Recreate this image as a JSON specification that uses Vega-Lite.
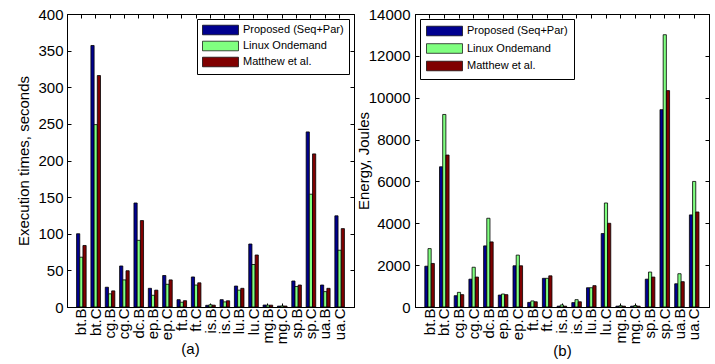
{
  "$schema": "https://vega.github.io/schema/vega-lite/v6.json",
  "padding": {"left": 16, "top": 6, "right": 0, "bottom": 0},
  "background": "white",
  "config": {
    "view": {"stroke": "black", "strokeWidth": 1},
    "axis": {"domainColor": "black", "tickColor": "black", "labelColor": "black", "titleColor": "black", "labelFont": "Liberation Sans", "titleFont": "Liberation Sans", "labelFontSize": 15, "titleFontSize": 15, "titleFontWeight": "normal", "grid": false, "domainWidth": 1, "tickWidth": 1},
    "legend": {"labelFont": "Liberation Sans", "labelFontSize": 11, "labelColor": "black"}
  },
  "data": {"values": [
    {"b":"bt.B","m":"Proposed (Seq+Par)","t":100,"e":1950},{"b":"bt.B","m":"Linux Ondemand","t":68,"e":2790},{"b":"bt.B","m":"Matthew et al.","t":84,"e":2080},
    {"b":"bt.C","m":"Proposed (Seq+Par)","t":357,"e":6700},{"b":"bt.C","m":"Linux Ondemand","t":249,"e":9200},{"b":"bt.C","m":"Matthew et al.","t":316,"e":7260},
    {"b":"cg.B","m":"Proposed (Seq+Par)","t":27,"e":540},{"b":"cg.B","m":"Linux Ondemand","t":18,"e":700},{"b":"cg.B","m":"Matthew et al.","t":22,"e":590},
    {"b":"cg.C","m":"Proposed (Seq+Par)","t":56,"e":1330},{"b":"cg.C","m":"Linux Ondemand","t":37,"e":1900},{"b":"cg.C","m":"Matthew et al.","t":49.5,"e":1430},
    {"b":"dc.B","m":"Proposed (Seq+Par)","t":142,"e":2920},{"b":"dc.B","m":"Linux Ondemand","t":91,"e":4240},{"b":"dc.B","m":"Matthew et al.","t":118,"e":3110},
    {"b":"ep.B","m":"Proposed (Seq+Par)","t":25.5,"e":570},{"b":"ep.B","m":"Linux Ondemand","t":16,"e":620},{"b":"ep.B","m":"Matthew et al.","t":23,"e":590},
    {"b":"ep.C","m":"Proposed (Seq+Par)","t":43,"e":1970},{"b":"ep.C","m":"Linux Ondemand","t":31,"e":2480},{"b":"ep.C","m":"Matthew et al.","t":37,"e":1970},
    {"b":"ft.B","m":"Proposed (Seq+Par)","t":10,"e":220},{"b":"ft.B","m":"Linux Ondemand","t":6.5,"e":290},{"b":"ft.B","m":"Matthew et al.","t":8.6,"e":250},
    {"b":"ft.C","m":"Proposed (Seq+Par)","t":41,"e":1370},{"b":"ft.C","m":"Linux Ondemand","t":30,"e":1370},{"b":"ft.C","m":"Matthew et al.","t":33,"e":1490},
    {"b":"is.B","m":"Proposed (Seq+Par)","t":2.3,"e":40},{"b":"is.B","m":"Linux Ondemand","t":3,"e":100},{"b":"is.B","m":"Matthew et al.","t":2.5,"e":40},
    {"b":"is.C","m":"Proposed (Seq+Par)","t":10,"e":210},{"b":"is.C","m":"Linux Ondemand","t":7,"e":350},{"b":"is.C","m":"Matthew et al.","t":8.5,"e":250},
    {"b":"lu.B","m":"Proposed (Seq+Par)","t":28.6,"e":920},{"b":"lu.B","m":"Linux Ondemand","t":23,"e":920},{"b":"lu.B","m":"Matthew et al.","t":25.5,"e":1020},
    {"b":"lu.C","m":"Proposed (Seq+Par)","t":86,"e":3510},{"b":"lu.C","m":"Linux Ondemand","t":58,"e":4970},{"b":"lu.C","m":"Matthew et al.","t":71,"e":4000},
    {"b":"mg.B","m":"Proposed (Seq+Par)","t":2.7,"e":40},{"b":"mg.B","m":"Linux Ondemand","t":2.5,"e":60},{"b":"mg.B","m":"Matthew et al.","t":2.5,"e":40},
    {"b":"mg.C","m":"Proposed (Seq+Par)","t":1.2,"e":40},{"b":"mg.C","m":"Linux Ondemand","t":1.5,"e":70},{"b":"mg.C","m":"Matthew et al.","t":1.3,"e":40},
    {"b":"sp.B","m":"Proposed (Seq+Par)","t":35.5,"e":1330},{"b":"sp.B","m":"Linux Ondemand","t":28,"e":1670},{"b":"sp.B","m":"Matthew et al.","t":30,"e":1430},
    {"b":"sp.C","m":"Proposed (Seq+Par)","t":239,"e":9430},{"b":"sp.C","m":"Linux Ondemand","t":154,"e":13010},{"b":"sp.C","m":"Matthew et al.","t":209,"e":10340},
    {"b":"ua.B","m":"Proposed (Seq+Par)","t":30,"e":1110},{"b":"ua.B","m":"Linux Ondemand","t":21,"e":1590},{"b":"ua.B","m":"Matthew et al.","t":25.5,"e":1210},
    {"b":"ua.C","m":"Proposed (Seq+Par)","t":124.5,"e":4400},{"b":"ua.C","m":"Linux Ondemand","t":77.5,"e":6000},{"b":"ua.C","m":"Matthew et al.","t":107,"e":4540}
  ]},
  "spacing": 0,
  "resolve": {"scale": {"color": "independent"}},
  "hconcat": [
    {
      "width": 287, "height": 293,
      "layer": [
        {
          "mark": {"type": "bar", "stroke": "black", "strokeWidth": 0.8},
          "encoding": {
            "x": {"field": "b", "type": "nominal", "sort": null, "scale": {"paddingInner": 0.333, "paddingOuter": 0.667},
                  "axis": {"orient": "bottom", "labelAngle": -90, "tickSize": -4, "labelPadding": 5, "title": "(a)", "titlePadding": -2, "titleX": 123}},
            "xOffset": {"field": "m", "type": "nominal", "sort": ["Proposed (Seq+Par)", "Linux Ondemand", "Matthew et al."], "scale": {"paddingInner": 0, "paddingOuter": 0}},
            "y": {"field": "t", "type": "quantitative", "scale": {"domain": [0, 400], "nice": false},
                  "axis": {"orient": "left", "values": [0,50,100,150,200,250,300,350,400], "format": "d", "tickSize": -4, "labelPadding": 8, "title": "Execution times, seconds", "titlePadding": 6}},
            "color": {"field": "m", "type": "nominal", "sort": ["Proposed (Seq+Par)", "Linux Ondemand", "Matthew et al."],
                      "scale": {"domain": ["Proposed (Seq+Par)", "Linux Ondemand", "Matthew et al."], "range": ["#00008F", "#80FF80", "#800000"]},
                      "legend": {"orient": "top-right", "offset": 5, "title": null, "strokeColor": "black", "fillColor": "white", "padding": 5, "symbolType": "M-1,-0.873H5.545V0.873H-1Z", "symbolSize": 121, "symbolStrokeColor": "black", "symbolStrokeWidth": 0.7, "labelOffset": 29, "rowPadding": 2}}
          }
        },
        {
          "mark": {"type": "point", "opacity": 0},
          "encoding": {
            "x": {"field": "b", "type": "nominal", "sort": null, "axis": {"orient": "top", "labels": false, "title": null, "tickSize": -4}},
            "y": {"field": "t", "type": "quantitative", "axis": {"orient": "right", "labels": false, "title": null, "tickSize": -4, "values": [0,50,100,150,200,250,300,350,400]}}
          }
        }
      ],
      "resolve": {"axis": {"x": "independent", "y": "independent"}}
    },
    {
      "width": 294, "height": 293,
      "layer": [
        {
          "mark": {"type": "bar", "stroke": "black", "strokeWidth": 0.8},
          "encoding": {
            "x": {"field": "b", "type": "nominal", "sort": null, "scale": {"paddingInner": 0.333, "paddingOuter": 0.667},
                  "axis": {"orient": "bottom", "labelAngle": -90, "tickSize": -4, "labelPadding": 5, "title": "(b)", "titlePadding": 0}},
            "xOffset": {"field": "m", "type": "nominal", "sort": ["Proposed (Seq+Par)", "Linux Ondemand", "Matthew et al."], "scale": {"paddingInner": 0, "paddingOuter": 0}},
            "y": {"field": "e", "type": "quantitative", "scale": {"domain": [0, 14000], "nice": false},
                  "axis": {"orient": "left", "values": [0,2000,4000,6000,8000,10000,12000,14000], "format": "d", "tickSize": -4, "labelPadding": 9, "title": "Energy, Joules", "titlePadding": -3}},
            "color": {"field": "m", "type": "nominal", "sort": ["Proposed (Seq+Par)", "Linux Ondemand", "Matthew et al."],
                      "scale": {"domain": ["Proposed (Seq+Par)", "Linux Ondemand", "Matthew et al."], "range": ["#00008F", "#80FF80", "#800000"]},
                      "legend": {"orient": "top-left", "offset": 5, "title": null, "strokeColor": "black", "fillColor": "white", "padding": 6, "symbolType": "M-1,-0.873H5.545V0.873H-1Z", "symbolSize": 121, "symbolStrokeColor": "black", "symbolStrokeWidth": 0.7, "labelOffset": 29, "rowPadding": 3.5}}
          }
        },
        {
          "mark": {"type": "point", "opacity": 0},
          "encoding": {
            "x": {"field": "b", "type": "nominal", "sort": null, "axis": {"orient": "top", "labels": false, "title": null, "tickSize": -4}},
            "y": {"field": "e", "type": "quantitative", "axis": {"orient": "right", "labels": false, "title": null, "tickSize": -4, "values": [0,2000,4000,6000,8000,10000,12000,14000]}}
          }
        }
      ],
      "resolve": {"axis": {"x": "independent", "y": "independent"}}
    }
  ]
}
